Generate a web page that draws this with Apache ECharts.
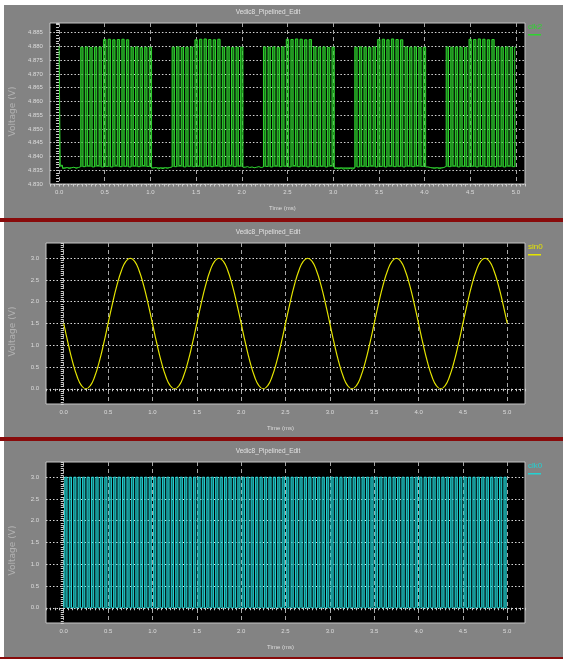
<!DOCTYPE html>
<html>
<head>
<meta charset="utf-8">
<script src="https://cdn.jsdelivr.net/npm/echarts@6/dist/echarts.min.js"></script>
<style>
html, body { margin: 0; padding: 0; background: #fff; }
.wrap { position: relative; width: 563px; height: 659px; }
.panel { position: absolute; left: 4px; right: 0; background: #838383; }
.sep { position: absolute; left: 0; right: 0; background: #880b0b; }
#chart { position: absolute; left: 0; top: 0; width: 563px; height: 659px; }
</style>
</head>
<body>
<div class="wrap">
    <div class="panel" style="top:5px;height:213px"></div>
    <div class="sep" style="top:218px;height:4px"></div>
    <div class="panel" style="top:222px;height:215px"></div>
    <div class="sep" style="top:437px;height:4px"></div>
    <div class="panel" style="top:441px;height:216px"></div>
    <div class="sep" style="top:657px;height:2px"></div>
    <div id="chart"></div>
</div>
<script>
// sample spacing of the traces (ms)
const clkStep = 0.025
const sinStep = 0.05

const timeTicks = [0, 0.5, 1.0, 1.5, 2.0, 2.5, 3.0, 3.5, 4.0, 4.5, 5.0]
const clk2Ticks = [4.830, 4.835, 4.840, 4.845, 4.850, 4.855, 4.860, 4.865, 4.870, 4.875, 4.880, 4.885]
const voltTicks = [0, 0.5, 1.0, 1.5, 2.0, 2.5, 3.0]

// top trace, one value every 0.025 ms
const clk2Volts = [
    4.8800, 4.8368, 4.8357, 4.8360, 4.8356, 4.8359, 4.8361, 4.8357, 4.8360, 4.8363, 4.8797, 4.8363, 4.8798, 4.8366, 4.8796, 4.8362, 4.8797, 4.8367, 4.8798, 4.8362,
    4.8825, 4.8364, 4.8826, 4.8362, 4.8824, 4.8368, 4.8825, 4.8363, 4.8826, 4.8365, 4.8824, 4.8362, 4.8797, 4.8366, 4.8798, 4.8363, 4.8796, 4.8367, 4.8797, 4.8364,
    4.8797, 4.8358, 4.8360, 4.8355, 4.8358, 4.8356, 4.8359, 4.8357, 4.8360, 4.8362, 4.8797, 4.8363, 4.8798, 4.8367, 4.8796, 4.8362, 4.8797, 4.8365, 4.8798, 4.8363,
    4.8824, 4.8365, 4.8826, 4.8362, 4.8827, 4.8366, 4.8825, 4.8363, 4.8824, 4.8367, 4.8826, 4.8362, 4.8797, 4.8364, 4.8798, 4.8368, 4.8796, 4.8363, 4.8797, 4.8366,
    4.8797, 4.8361, 4.8363, 4.8360, 4.8362, 4.8359, 4.8361, 4.8363, 4.8360, 4.8362, 4.8798, 4.8364, 4.8797, 4.8362, 4.8798, 4.8366, 4.8796, 4.8363, 4.8798, 4.8365,
    4.8826, 4.8362, 4.8825, 4.8367, 4.8827, 4.8363, 4.8826, 4.8365, 4.8824, 4.8362, 4.8825, 4.8366, 4.8798, 4.8363, 4.8797, 4.8365, 4.8798, 4.8362, 4.8796, 4.8367,
    4.8797, 4.8357, 4.8355, 4.8358, 4.8354, 4.8356, 4.8355, 4.8357, 4.8354, 4.8358, 4.8797, 4.8362, 4.8798, 4.8365, 4.8797, 4.8363, 4.8796, 4.8366, 4.8798, 4.8362,
    4.8825, 4.8364, 4.8826, 4.8362, 4.8824, 4.8366, 4.8827, 4.8363, 4.8825, 4.8365, 4.8824, 4.8362, 4.8798, 4.8366, 4.8797, 4.8363, 4.8798, 4.8367, 4.8796, 4.8364,
    4.8797, 4.8362, 4.8360, 4.8358, 4.8357, 4.8359, 4.8356, 4.8358, 4.8360, 4.8364, 4.8798, 4.8363, 4.8797, 4.8366, 4.8798, 4.8362, 4.8797, 4.8365, 4.8796, 4.8363,
    4.8826, 4.8365, 4.8825, 4.8362, 4.8827, 4.8366, 4.8826, 4.8363, 4.8824, 4.8364, 4.8825, 4.8362, 4.8798, 4.8365, 4.8797, 4.8362, 4.8798, 4.8366, 4.8797, 4.8363,
    4.8797
]

// middle trace, one value every 0.05 ms
const sinVolts = [
    1.5, 1.036, 0.618, 0.286, 0.073, 0.0, 0.073, 0.286, 0.618, 1.036, 1.5, 1.964, 2.382, 2.714, 2.927, 3.0, 2.927, 2.714, 2.382, 1.964,
    1.5, 1.036, 0.618, 0.286, 0.073, 0.0, 0.073, 0.286, 0.618, 1.036, 1.5, 1.964, 2.382, 2.714, 2.927, 3.0, 2.927, 2.714, 2.382, 1.964,
    1.5, 1.036, 0.618, 0.286, 0.073, 0.0, 0.073, 0.286, 0.618, 1.036, 1.5, 1.964, 2.382, 2.714, 2.927, 3.0, 2.927, 2.714, 2.382, 1.964,
    1.5, 1.036, 0.618, 0.286, 0.073, 0.0, 0.073, 0.286, 0.618, 1.036, 1.5, 1.964, 2.382, 2.714, 2.927, 3.0, 2.927, 2.714, 2.382, 1.964,
    1.5, 1.036, 0.618, 0.286, 0.073, 0.0, 0.073, 0.286, 0.618, 1.036, 1.5, 1.964, 2.382, 2.714, 2.927, 3.0, 2.927, 2.714, 2.382, 1.964,
    1.5
]

// bottom trace, one value every 0.025 ms
const clk0Volts = [
    0, 3, 0, 3, 0, 3, 0, 3, 0, 3, 0, 3, 0, 3, 0, 3, 0, 3, 0, 3,
    0, 3, 0, 3, 0, 3, 0, 3, 0, 3, 0, 3, 0, 3, 0, 3, 0, 3, 0, 3,
    0, 3, 0, 3, 0, 3, 0, 3, 0, 3, 0, 3, 0, 3, 0, 3, 0, 3, 0, 3,
    0, 3, 0, 3, 0, 3, 0, 3, 0, 3, 0, 3, 0, 3, 0, 3, 0, 3, 0, 3,
    0, 3, 0, 3, 0, 3, 0, 3, 0, 3, 0, 3, 0, 3, 0, 3, 0, 3, 0, 3,
    0, 3, 0, 3, 0, 3, 0, 3, 0, 3, 0, 3, 0, 3, 0, 3, 0, 3, 0, 3,
    0, 3, 0, 3, 0, 3, 0, 3, 0, 3, 0, 3, 0, 3, 0, 3, 0, 3, 0, 3,
    0, 3, 0, 3, 0, 3, 0, 3, 0, 3, 0, 3, 0, 3, 0, 3, 0, 3, 0, 3,
    0, 3, 0, 3, 0, 3, 0, 3, 0, 3, 0, 3, 0, 3, 0, 3, 0, 3, 0, 3,
    0, 3, 0, 3, 0, 3, 0, 3, 0, 3, 0, 3, 0, 3, 0, 3, 0, 3, 0, 3,
    0
]

const titleText = 'Vedic8_Pipelined_Edit'
const narrowFont = "'Liberation Sans Narrow', 'Liberation Sans', sans-serif"

const panels = [
    { top: 23, xMin: -0.1, xMax: 5.1, yMin: 4.830, yMax: 4.8885, yTicks: clk2Ticks, digits: 3, yRuler: 0.001,
      name: 'clk2', color: '#2fd42f', data: clk2Volts, step: clkStep, fillFrom: 4.8362 },
    { top: 243, xMin: -0.2, xMax: 5.2, yMin: -0.35, yMax: 3.35, yTicks: voltTicks, digits: 1, yRuler: 0.05,
      name: 'sin0', color: '#e4e400', data: sinVolts, step: sinStep, fillFrom: null },
    { top: 462, xMin: -0.2, xMax: 5.2, yMin: -0.35, yMax: 3.35, yTicks: voltTicks, digits: 1, yRuler: 0.05,
      name: 'clk0', color: '#22d2d2', data: clk0Volts, step: clkStep, fillFrom: 0 }
]

const grids = []
const xAxes = []
const yAxes = []
const series = []
const graphics = []

panels.forEach((p, k) => {
    grids.push({
        left: 45, top: p.top, width: 480, height: 161,
        show: true, backgroundColor: '#000', borderColor: '#c6c6c6', borderWidth: 1
    })

    xAxes.push({
        type: 'value', gridIndex: k, min: p.xMin, max: p.xMax, position: 'bottom',
        axisLine: { show: false },
        axisTick: { show: false, customValues: timeTicks },
        axisLabel: {
            customValues: timeTicks, formatter: v => v.toFixed(1),
            color: '#dcdcdc', fontSize: 6, margin: 5, fontFamily: narrowFont
        },
        splitLine: { show: true, lineStyle: { color: '#a6a6a6', type: [4, 3], width: 1 } },
        name: 'Time (ms)', nameLocation: 'middle', nameGap: 21,
        nameTextStyle: { color: '#dcdcdc', fontSize: 6, fontFamily: narrowFont, padding: [0, 10, 0, 0] }
    })
    // ruler ticks under the plot
    xAxes.push({
        type: 'value', gridIndex: k, min: p.xMin, max: p.xMax, interval: 0.05, position: 'bottom',
        axisLine: { show: false },
        axisTick: { show: true, length: 2.5, lineStyle: { color: '#cfcfcf', width: 1 } },
        axisLabel: { show: false },
        splitLine: { show: false }
    })

    yAxes.push({
        type: 'value', gridIndex: k, min: p.yMin, max: p.yMax, position: 'left',
        axisLine: { show: false },
        axisTick: { show: false, customValues: p.yTicks },
        axisLabel: {
            customValues: p.yTicks, formatter: v => v.toFixed(p.digits),
            color: '#dcdcdc', fontSize: 6, margin: 7, fontFamily: narrowFont
        },
        splitLine: { show: true, lineStyle: { color: '#d6d6d6', type: [1.5, 2], width: 1 } },
        name: 'Voltage (V)', nameLocation: 'middle', nameGap: 29,
        nameTextStyle: { color: '#b2b2b2', fontSize: 9, fontFamily: 'DejaVu Sans', padding: [0, 16, 0, 0] }
    })
    yAxes.push({
        type: 'value', gridIndex: k, min: p.yMin, max: p.yMax, interval: p.yRuler, position: 'left',
        axisLine: { show: false },
        axisTick: { show: true, length: 3, lineStyle: { color: '#cfcfcf', width: 1 } },
        axisLabel: { show: false },
        splitLine: { show: false }
    })

    const isClock = p.fillFrom !== null
    series.push({
        name: p.name,
        type: 'line',
        xAxisIndex: k * 2,
        yAxisIndex: k * 2,
        data: p.data.map((v, i) => [+(i * p.step).toFixed(3), v]),
        step: isClock ? 'middle' : false,
        smooth: !isClock,
        showSymbol: false,
        silent: true,
        lineStyle: { color: p.color, width: isClock ? 1 : 1.2 },
        areaStyle: isClock ? { color: p.color, opacity: 0.55, origin: p.fillFrom } : undefined
    })

    // panel title and legend
    const panelTop = [0, 220, 439][k]
    graphics.push({
        type: 'text', x: 268, y: panelTop + 12,
        style: { text: titleText, fill: '#e2e2e2', fontSize: 6.5, fontFamily: narrowFont, align: 'center', verticalAlign: 'middle' }
    })
    graphics.push({
        type: 'text', x: 528, y: p.top + 4,
        style: { text: p.name, fill: p.color, fontSize: 8, fontFamily: narrowFont, align: 'left', verticalAlign: 'middle' }
    })
    graphics.push({
        type: 'rect', shape: { x: 528, y: p.top + 11, width: 13, height: 1.5 },
        style: { fill: p.color }
    })
})

const chart = echarts.init(document.getElementById('chart'))
chart.setOption({
    animation: false,
    backgroundColor: 'transparent',
    grid: grids,
    xAxis: xAxes,
    yAxis: yAxes,
    series: series,
    graphic: graphics
})
</script>
</body>
</html>
